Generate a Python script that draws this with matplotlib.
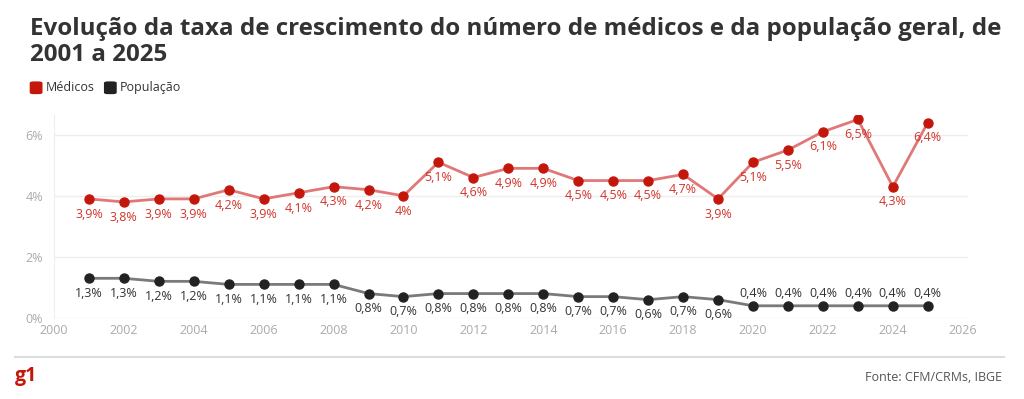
import matplotlib.pyplot as plt
from matplotlib.patches import FancyBboxPatch

plt.rcParams['font.family'] = ['Open Sans', 'DejaVu Sans']

anos = list(range(2001, 2026))
medicos = [3.9, 3.8, 3.9, 3.9, 4.2, 3.9, 4.1, 4.3, 4.2, 4.0, 5.1, 4.6, 4.9, 4.9,
           4.5, 4.5, 4.5, 4.7, 3.9, 5.1, 5.5, 6.1, 6.5, 4.3, 6.4]
populacao = [1.3, 1.3, 1.2, 1.2, 1.1, 1.1, 1.1, 1.1, 0.8, 0.7, 0.8, 0.8, 0.8, 0.8,
             0.7, 0.7, 0.6, 0.7, 0.6, 0.4, 0.4, 0.4, 0.4, 0.4, 0.4]
xticks = list(range(2000, 2027, 2))
yticks = [0, 2, 4, 6]

RED = '#c4170c'
DARK = '#222222'

def fmt(v):
    s = ('%.1f' % v).replace('.', ',')
    if s.endswith(',0'):
        s = s[:-2]
    return s + '%'

fig = plt.figure(figsize=(10.24, 3.99), dpi=100)
ax = fig.add_axes([0.0527, 0.203, 0.8926, 0.509])

ax.plot(anos, medicos, color='#e07878', lw=2, zorder=2)
ax.plot(anos, medicos, 'o', color=RED, ms=6.5, zorder=3)
ax.plot(anos, populacao, color='#7a7a7a', lw=2, zorder=2)
ax.plot(anos, populacao, 'o', color=DARK, ms=6.5, zorder=3)

for x, v in zip(anos, medicos):
    ax.annotate(fmt(v), (x, v), xytext=(0, -11), textcoords='offset points',
                ha='center', va='center', fontsize=9, color='#d0352c')
for x, v in zip(anos, populacao):
    dy = 9 if x >= 2020 else -11
    ax.annotate(fmt(v), (x, v), xytext=(0, dy), textcoords='offset points',
                ha='center', va='center', fontsize=9, color='#333333')

ax.set_xlim(2000, 2026.15)
ax.set_ylim(0, 6.65)
ax.set_xticks(xticks)
ax.set_yticks(yticks)
ax.set_yticklabels([f'{t}%' for t in yticks])
ax.tick_params(axis='both', length=0, labelsize=9, labelcolor='#aaaaaa', pad=4)
ax.tick_params(axis='y', pad=8)
ax.grid(axis='y', color='#eeeeee', lw=1)
ax.set_axisbelow(True)
for s in ['top', 'right', 'bottom']:
    ax.spines[s].set_visible(False)
ax.spines['left'].set_color('#eeeeee')

fig.text(0.029, 0.957, 'Evolução da taxa de crescimento do número de médicos e da população geral, de\n2001 a 2025',
         fontsize=17.4, fontweight='bold', color='#333333', va='top', ha='left', linespacing=1.1)

# legenda
for lab, col, x0 in [('Médicos', RED, 0.029), ('População', DARK, 0.1015)]:
    fig.patches.append(FancyBboxPatch((x0, 0.764), 0.0125, 0.032, boxstyle='round,pad=0,rounding_size=0.004',
                                      transform=fig.transFigure, facecolor=col, edgecolor='none'))
    fig.text(x0 + 0.0155, 0.781, lab, fontsize=9, color='#333333', va='center', ha='left')

fig.add_artist(plt.Line2D([0.015, 0.98], [0.105, 0.105], color='#dddddd', lw=1.5, transform=fig.transFigure))
fig.text(0.015, 0.058, 'g1', fontsize=14, fontweight='bold', color=RED, va='center', ha='left')
fig.text(0.979, 0.055, 'Fonte: CFM/CRMs, IBGE', fontsize=9, color='#555555', va='center', ha='right')

fig.savefig('out.png', dpi=100, facecolor='white')
